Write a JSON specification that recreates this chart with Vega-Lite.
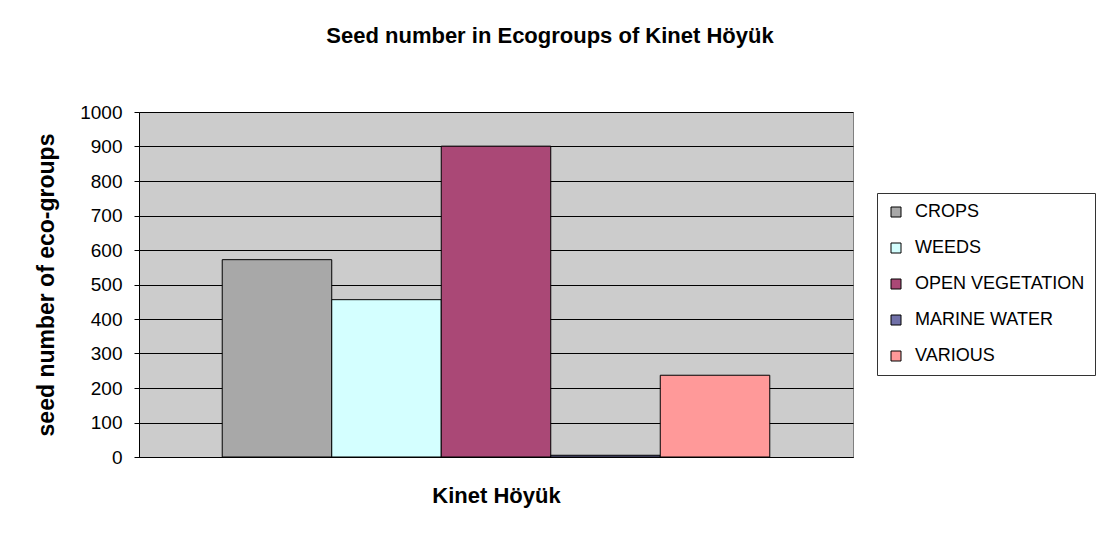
{
  "$schema": "https://vega.github.io/schema/vega-lite/v6.json",
  "width": 714,
  "height": 345,
  "autosize": "none",
  "padding": {"left": 139, "top": 112, "right": 247, "bottom": 78},
  "background": "white",
  "title": {
    "text": "Seed number in Ecogroups of Kinet Höyük",
    "frame": "group",
    "anchor": "middle",
    "dx": 54,
    "offset": 55,
    "fontSize": 22,
    "font": "Liberation Sans",
    "fontWeight": "bold",
    "color": "black"
  },
  "data": {
    "values": [
      {"group": "CROPS", "seeds": 572},
      {"group": "WEEDS", "seeds": 456},
      {"group": "OPEN VEGETATION", "seeds": 901},
      {"group": "MARINE WATER", "seeds": 5},
      {"group": "VARIOUS", "seeds": 237}
    ]
  },
  "mark": {"type": "bar", "stroke": "black", "strokeWidth": 1},
  "encoding": {
    "x": {
      "field": "group",
      "type": "nominal",
      "sort": null,
      "scale": {"paddingInner": 0, "paddingOuter": 0.76},
      "axis": {
        "labels": false,
        "ticks": false,
        "domainColor": "black",
        "title": "Kinet Höyük",
        "titleFont": "Liberation Sans",
        "titleFontSize": 22,
        "titleFontWeight": "bold",
        "titleColor": "black",
        "titlePadding": 28
      }
    },
    "y": {
      "field": "seeds",
      "type": "quantitative",
      "scale": {"domain": [0, 1000], "nice": false},
      "axis": {
        "values": [0, 100, 200, 300, 400, 500, 600, 700, 800, 900, 1000],
        "format": "d",
        "title": "seed number  of  eco-groups",
        "titleFont": "Liberation Sans",
        "titleFontSize": 23,
        "titleFontWeight": "bold",
        "titleColor": "black",
        "titlePadding": 21,
        "labelFont": "Liberation Sans",
        "labelFontSize": 19,
        "labelColor": "black",
        "labelPadding": 12,
        "tickSize": 5,
        "tickColor": "black",
        "domainColor": "black",
        "grid": true,
        "gridColor": "black",
        "gridOpacity": 1
      }
    },
    "color": {
      "field": "group",
      "type": "nominal",
      "sort": null,
      "scale": {
        "domain": ["CROPS", "WEEDS", "OPEN VEGETATION", "MARINE WATER", "VARIOUS"],
        "range": ["#A8A8A8", "#D4FFFF", "#AA4876", "#7070A8", "#FF9999"]
      },
      "legend": {
        "orient": "none",
        "legendX": 738,
        "legendY": 81,
        "title": null,
        "strokeColor": "#333333",
        "fillColor": "white",
        "padding": 10,
        "rowPadding": 18,
        "symbolType": "square",
        "symbolSize": 100,
        "symbolStrokeColor": "black",
        "symbolStrokeWidth": 1,
        "labelFont": "Liberation Sans",
        "labelFontSize": 18,
        "labelLimit": 400,
        "labelColor": "black",
        "labelOffset": 10
      }
    }
  },
  "config": {
    "view": {"fill": "#CCCCCC", "stroke": "#808080"}
  }
}
